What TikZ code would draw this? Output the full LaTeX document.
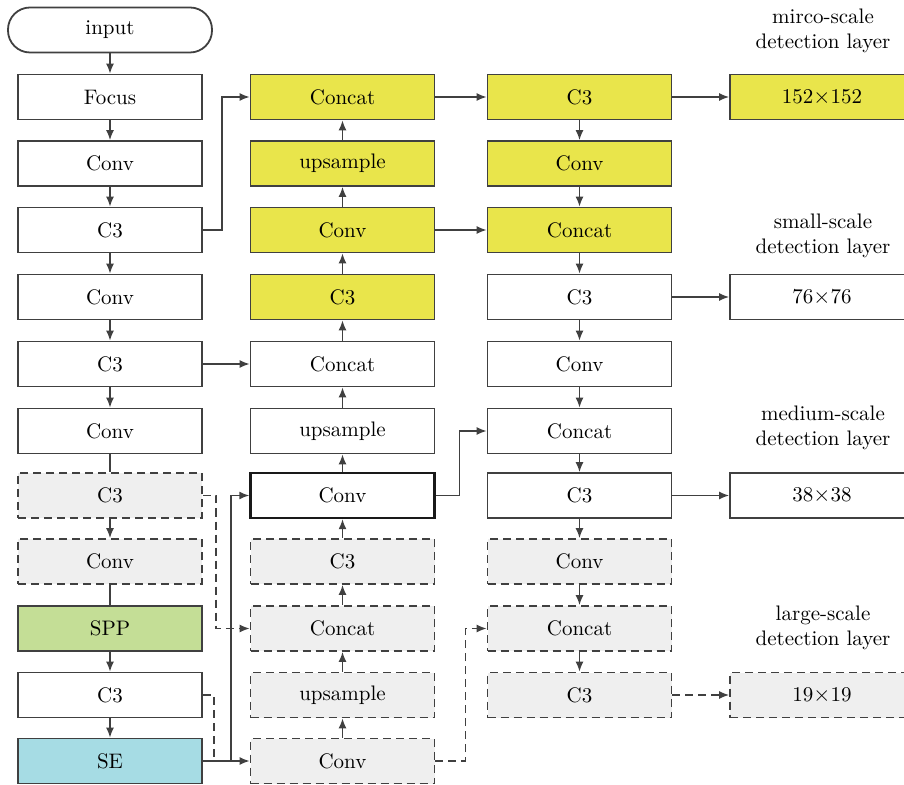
\documentclass[tikz,border=0pt]{standalone}
\usetikzlibrary{arrows.meta}
\definecolor{lg}{HTML}{404040}
\definecolor{yel}{HTML}{E9E54B}
\definecolor{grn}{HTML}{C4DE96}
\definecolor{blu}{HTML}{A6DCE4}
\definecolor{dfill}{HTML}{EFEFEF}
\begin{document}
\begin{tikzpicture}[x=0.5pt,y=-0.5pt,
 box/.style={draw=lg, line width=0.9pt, minimum width=92pt, minimum height=22.5pt, inner sep=0pt, font=\fontsize{10.5}{12.5}\selectfont, fill=white},
 dbox/.style={box, dash pattern=on 4pt off 2.5pt, fill=dfill},
 ybox/.style={box, fill=yel},
 arr/.style={draw=lg, line width=0.75pt, -{Latex[length=5pt,width=4pt]}},
 ln/.style={draw=lg, line width=0.75pt},
 darr/.style={arr, dash pattern=on 4pt off 2.5pt},
 dln/.style={ln, dash pattern=on 4pt off 2.5pt},
 lab/.style={align=center, font=\fontsize{10.5}{12.5}\selectfont}
]
\useasboundingbox (0,0) rectangle (904,785);
% left column
\node[box, rounded corners=11pt, minimum width=102pt] (in) at (110,30) {input};
\node[box] (l1) at (110,97) {Focus};
\node[box] (l2) at (110,163.5) {Conv};
\node[box] (l3) at (110,230) {C3};
\node[box] (l4) at (110,297) {Conv};
\node[box] (l5) at (110,364) {C3};
\node[box] (l6) at (110,431) {Conv};
\node[dbox] (l7) at (110,495.5) {C3};
\node[dbox] (l8) at (110,561.5) {Conv};
\node[box, fill=grn] (l9) at (110,628.5) {SPP};
\node[box] (l10) at (110,695) {C3};
\node[box, fill=blu] (l11) at (110,761) {SE};
% middle column
\node[ybox] (m1) at (342.5,97) {Concat};
\node[ybox] (m2) at (342.5,163.5) {upsample};
\node[ybox] (m3) at (342.5,230) {Conv};
\node[ybox] (m4) at (342.5,297) {C3};
\node[box] (m5) at (342.5,364) {Concat};
\node[box] (m6) at (342.5,431) {upsample};
\node[box, draw=black!90, line width=1.2pt] (m7) at (342.5,495.5) {Conv};
\node[dbox] (m8) at (342.5,561.5) {C3};
\node[dbox] (m9) at (342.5,628.5) {Concat};
\node[dbox] (m10) at (342.5,695) {upsample};
\node[dbox] (m11) at (342.5,761) {Conv};
% right column
\node[ybox] (r1) at (579.5,97) {C3};
\node[ybox] (r2) at (579.5,163.5) {Conv};
\node[ybox] (r3) at (579.5,230) {Concat};
\node[box] (r4) at (579.5,297) {C3};
\node[box] (r5) at (579.5,364) {Conv};
\node[box] (r6) at (579.5,431) {Concat};
\node[box] (r7) at (579.5,495.5) {C3};
\node[dbox] (r8) at (579.5,561.5) {Conv};
\node[dbox] (r9) at (579.5,628.5) {Concat};
\node[dbox] (r10) at (579.5,695) {C3};
% outputs
\node[ybox] (o1) at (822,97) {152$\times$152};
\node[box] (o4) at (822,297) {76$\times$76};
\node[box] (o7) at (822,495.5) {38$\times$38};
\node[dbox] (o10) at (822,695) {19$\times$19};
% labels
\node[lab] (t1) at (823,31) {mirco-scale\\detection layer};
\node[lab] (t2) at (823,236) {small-scale\\detection layer};
\node[lab] (t3) at (823,428) {medium-scale\\detection layer};
\node[lab] (t4) at (823,628) {large-scale\\detection layer};
% left column connectors
\draw[arr] (in) -- (l1);
\draw[arr] (l1) -- (l2);
\draw[arr] (l2) -- (l3);
\draw[arr] (l3) -- (l4);
\draw[arr] (l4) -- (l5);
\draw[arr] (l5) -- (l6);
\draw[ln] (l6) -- (l7);
\draw[arr] (l7) -- (l8);
\draw[ln] (l8) -- (l9);
\draw[arr] (l9) -- (l10);
\draw[arr] (l10) -- (l11);
% left to middle
\draw[arr] (l3.east) -- ++(19,0) |- (m1.west);
\draw[arr] (l5) -- (m5);
\draw[darr] (l7.east) -- ++(13,0) |- (m9.west);
\draw[arr] (l11.east) -- ++(28,0) |- (m7.west);
\draw[arr] (l11) -- (m11);
\draw[dln] (l10.east) -- ++(11,0) coordinate (c1) -- (c1 |- l11.east);
% middle upward
\foreach \a/\b in {m11/m10,m10/m9,m9/m8,m8/m7,m7/m6,m6/m5,m5/m4,m4/m3,m3/m2,m2/m1}
  \draw[arr] (\a) -- (\b);
% middle to right
\draw[arr] (m1) -- (r1);
\draw[arr] (m3) -- (r3);
\draw[arr] (m7.east) -- ++(24,0) |- (r6.west);
\draw[darr] (m11.east) -- ++(30,0) |- (r9.west);
% right downward
\foreach \a/\b in {r1/r2,r2/r3,r3/r4,r4/r5,r5/r6,r6/r7,r7/r8,r8/r9,r9/r10}
  \draw[arr] (\a) -- (\b);
% right to outputs
\draw[arr] (r1) -- (o1);
\draw[arr] (r4) -- (o4);
\draw[arr] (r7) -- (o7);
\draw[darr] (r10) -- (o10);
\end{tikzpicture}
\end{document}
